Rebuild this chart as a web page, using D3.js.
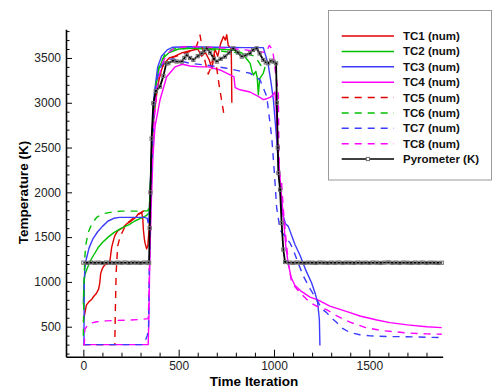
<!DOCTYPE html>
<html>
<head>
<meta charset="utf-8">
<script src="https://d3js.org/d3.v7.min.js"></script>
<style>
  body { margin: 0; background: #fff; }
  svg { display: block; font-family: "Liberation Sans", Arial, sans-serif; }
</style>
</head>
<body>
<svg width="497" height="387"></svg>
<script>
// values: [iteration, temperature K]
var tc1 = [[0,560],[7,640],[16,740],[30,780],[42,800],[55,840],[68,870],[80,920],[86,985],[91,1095],[100,1150],[112,1190],[125,1200],[138,1210],[145,1330],[149,1390],[160,1480],[166,1520],[180,1570],[210,1610],[228,1650],[245,1670],[262,1700],[275,1720],[288,1760],[300,1770],[306,1780],[312,1700],[315,1580],[320,1480],[324,1430],[332,1370],[338,1400],[341,1480],[345,1600],[352,2000],[360,2500],[370,2850],[385,3100],[400,3300],[420,3430],[450,3500],[480,3520],[520,3560],[560,3580],[600,3600],[620,3520],[640,3560],[660,3480],[675,3380],[690,3600],[705,3520],[720,3660],[735,3740],[745,3700],[752,3760],[760,3640],[770,3620],[776,3600],[779,3000]];
var tc2 = [[0,750],[3,1000],[8,1080],[20,1150],[40,1250],[60,1320],[80,1390],[100,1440],[130,1500],[160,1550],[200,1600],[240,1640],[270,1680],[300,1710],[330,1740],[345,1770],[352,2100],[362,2700],[375,3100],[395,3380],[420,3500],[450,3560],[500,3600],[600,3610],[700,3600],[780,3590],[830,3560],[860,3480],[875,3440],[885,3350],[892,3310],[905,3350],[912,3280],[918,3090],[925,3270],[935,3300],[944,3330],[953,3400]];
var tc3 = [[0,300],[3,300],[5,1000],[8,1150],[15,1250],[30,1380],[50,1480],[75,1560],[100,1620],[130,1680],[160,1710],[190,1720],[230,1720],[280,1720],[320,1720],[335,1710],[340,1660],[345,1720],[350,2000],[360,2600],[372,3100],[390,3400],[410,3520],[440,3590],[470,3620],[550,3625],[700,3620],[850,3615],[944,3615],[960,3500],[970,3420],[985,3220],[997,3030],[1014,2590],[1030,2100],[1040,1800],[1060,1650],[1075,1620],[1110,1417],[1136,1300],[1165,1140],[1197,990],[1215,880],[1229,770],[1238,580],[1241,290]];
var tc4 = [[0,300],[340,300],[344,600],[348,1200],[355,1800],[365,2400],[376,2735],[402,3030],[437,3290],[481,3400],[520,3430],[560,3410],[612,3400],[656,3400],[717,3366],[770,3310],[790,3290],[796,3170],[822,3145],[874,3120],[918,3070],[945,3035],[962,3045],[980,3060],[995,3090],[1005,3120],[1012,2900],[1020,2500],[1030,2200],[1040,1950],[1050,1700],[1062,1400],[1075,1200],[1090,1050],[1110,960],[1140,900],[1189,830],[1230,800],[1293,730],[1350,690],[1399,657],[1451,619],[1540,575],[1608,546],[1700,520],[1800,500],[1880,490]];
var tc5 = [[0,300],[165,300],[168,700],[172,1100],[180,1400],[192,1500],[210,1580],[228,1650],[255,1700],[280,1740],[315,1790],[340,1800],[348,1820],[355,2200],[365,2700],[378,3000],[395,3250],[420,3430],[460,3500],[500,3530],[540,3560],[570,3580],[595,3640],[612,3756],[625,3600],[640,3450],[655,3320],[670,3400],[685,3560],[700,3380],[712,3200],[725,3030],[735,2900],[743,2840]];
var tc6 = [[0,400],[3,900],[7,1250],[12,1400],[25,1550],[45,1650],[70,1720],[100,1760],[150,1780],[200,1790],[280,1790],[340,1795],[348,1900],[355,2300],[365,2800],[380,3200],[400,3420],[430,3550],[470,3600],[550,3610],[650,3600],[750,3570],[850,3550],[900,3520],[930,3420],[950,3380]];
var tc7 = [[0,300],[310,300],[322,330],[335,400],[342,480],[346,1200],[355,2100],[368,2800],[385,3250],[410,3420],[440,3480],[470,3490],[520,3460],[560,3440],[647,3420],[752,3385],[874,3330],[927,3255],[962,3070],[988,2620],[1002,2220],[1014,1830],[1032,1580],[1060,1500],[1084,1435],[1101,1360],[1125,1220],[1154,1065],[1190,920],[1224,805],[1250,700],[1276,657],[1300,600],[1329,546],[1360,480],[1399,435],[1450,410],[1504,397],[1600,390],[1700,388],[1800,382],[1880,378]];
var tc8 = [[0,300],[5,300],[8,470],[20,510],[40,540],[70,555],[120,565],[180,570],[250,575],[300,580],[340,590],[344,800],[348,1300],[356,2000],[368,2700],[385,3150],[410,3420],[440,3550],[480,3610],[550,3630],[650,3620],[750,3610],[850,3590],[920,3570],[960,3560],[975,3640],[990,3600],[997,3530],[1010,3300],[1023,3107],[1025,2600],[1028,2216],[1040,2104],[1049,1807],[1062,1500],[1075,1213],[1093,991],[1136,880],[1189,770],[1240,710],[1276,690],[1330,620],[1399,550],[1480,490],[1573,455],[1700,430],[1800,420],[1880,415]];
var pyrometer = [[0,1215],[20,1212],[40,1216],[60,1213],[80,1215],[100,1211],[120,1216],[140,1214],[160,1212],[180,1215],[200,1213],[220,1216],[240,1212],[260,1215],[280,1214],[300,1212],[320,1216],[340,1214],[345,1215],[348,1600],[352,2000],[358,2600],[367,2995],[380,3130],[402,3180],[420,3300],[435,3440],[446,3441],[470,3470],[490,3460],[516,3459],[530,3500],[542,3533],[560,3500],[577,3478],[600,3520],[621,3552],[635,3580],[647,3608],[665,3560],[685,3490],[700,3459],[720,3490],[743,3515],[765,3560],[787,3608],[810,3560],[831,3515],[850,3530],[874,3552],[890,3590],[909,3608],[925,3550],[944,3478],[957,3450],[970,3441],[985,3470],[997,3459],[1011,3440],[1015,3000],[1020,2500],[1023,2216],[1032,2030],[1040,1658],[1049,1361],[1058,1222],[1080,1215],[1100,1213],[1120,1216],[1140,1214],[1160,1212],[1180,1215],[1200,1214],[1220,1212],[1240,1216],[1260,1214],[1280,1212],[1300,1215],[1320,1213],[1340,1216],[1360,1212],[1380,1215],[1400,1214],[1420,1212],[1440,1216],[1460,1213],[1480,1215],[1500,1212],[1520,1216],[1540,1214],[1560,1212],[1580,1215],[1600,1218],[1620,1213],[1640,1215],[1660,1212],[1680,1216],[1700,1214],[1720,1212],[1740,1215],[1760,1213],[1780,1216],[1800,1212],[1820,1215],[1840,1214],[1860,1212],[1880,1214]];

var seriesNames = ["TC1 (num)","TC2 (num)","TC3 (num)","TC4 (num)","TC5 (num)","TC6 (num)","TC7 (num)","TC8 (num)","Pyrometer (K)"];
var xTicks = [0, 500, 1000, 1500];
var yTicks = [500, 1000, 1500, 2000, 2500, 3000, 3500];

var colors = ["#e00000","#00c000","#3c3cff","#ff00ff","#e00000","#00c000","#3c3cff","#ff00ff","#000000"];
var dashed = [false,false,false,false,true,true,true,true,false];
var allSeries = [tc1,tc2,tc3,tc4,tc5,tc6,tc7,tc8,pyrometer];

var svg = d3.select("svg");

var x = d3.scaleLinear().domain([-91, 1885]).range([66, 442.7]);
var y = d3.scaleLinear().domain([165, 3820]).range([356.7, 29.3]);

// minor ticks every 100
var xMinor = d3.range(0, 1900, 100).filter(function(v){ return v % 500 != 0; });
var yMinor = d3.range(200, 3900, 100).filter(function(v){ return v % 500 != 0; });

svg.append("g")
  .attr("transform", "translate(0,356.7)")
  .call(d3.axisBottom(x).tickValues(xMinor).tickSizeInner(-4).tickSizeOuter(0).tickFormat(""))
  .call(function(g){ g.select(".domain").remove(); });
svg.append("g")
  .attr("transform", "translate(66,0)")
  .call(d3.axisLeft(y).tickValues(yMinor).tickSizeInner(-3.5).tickSizeOuter(0).tickFormat(""))
  .call(function(g){ g.select(".domain").remove(); });

var xAxis = svg.append("g")
  .attr("transform", "translate(0,356.7)")
  .call(d3.axisBottom(x).tickValues(xTicks).tickFormat(d3.format("d"))
    .tickSizeInner(-7).tickSizeOuter(0).tickPadding(5));
var yAxis = svg.append("g")
  .attr("transform", "translate(66,0)")
  .call(d3.axisLeft(y).tickValues(yTicks).tickFormat(d3.format("d"))
    .tickSizeInner(-6).tickSizeOuter(0).tickPadding(5));

[xAxis, yAxis].forEach(function(g){
  g.select(".domain").attr("stroke-width", 1.6);
  g.selectAll("text").attr("font-size", 12).attr("fill", "#222")
    .attr("font-family", "'Liberation Sans', Arial, sans-serif");
});
svg.selectAll(".tick line").attr("stroke", "#000");

// curves
var line = d3.line()
  .x(function(d){ return x(d[0]); })
  .y(function(d){ return y(d[1]); });

allSeries.forEach(function(s, i) {
  svg.append("path")
    .datum(s)
    .attr("d", line)
    .attr("fill", "none")
    .attr("stroke", colors[i])
    .attr("stroke-width", i == 8 ? 1.8 : 1.4)
    .attr("stroke-dasharray", dashed[i] ? "7,6" : null)
    .attr("stroke-linejoin", "round");
});

// pyrometer markers
svg.append("g").selectAll("rect")
  .data(pyrometer)
  .enter().append("rect")
  .attr("x", function(d){ return x(d[0]) - 1.6; })
  .attr("y", function(d){ return y(d[1]) - 1.6; })
  .attr("width", 3.2)
  .attr("height", 3.2)
  .attr("fill", "none")
  .attr("stroke", "#6e6e6e")
  .attr("stroke-width", 1);

// axis titles
svg.append("text")
  .attr("x", 254).attr("y", 385.5)
  .attr("text-anchor", "middle")
  .attr("font-size", 13.5).attr("font-weight", "bold")
  .text("Time Iteration");
svg.append("text")
  .attr("transform", "translate(28,192.5) rotate(-90)")
  .attr("text-anchor", "middle")
  .attr("font-size", 13.5).attr("font-weight", "bold")
  .text("Temperature (K)");

// legend
var legend = svg.append("g");
legend.append("rect")
  .attr("x", 328.5).attr("y", 10.5)
  .attr("width", 163).attr("height", 169.5)
  .attr("fill", "#fff").attr("stroke", "#9a9a9a").attr("stroke-width", 1);

var rows = legend.selectAll("g.row")
  .data(seriesNames)
  .enter().append("g")
  .attr("class", "row")
  .attr("transform", function(d, i){ return "translate(0," + (36 + i * 15.375) + ")"; });

rows.append("line")
  .attr("x1", 341.7).attr("x2", 394)
  .attr("stroke", function(d, i){ return colors[i]; })
  .attr("stroke-width", 1.5)
  .attr("stroke-dasharray", function(d, i){ return dashed[i] ? "7,6" : null; });

rows.filter(function(d, i){ return i == 8; })
  .append("rect")
  .attr("x", 366.3).attr("y", -1.6).attr("width", 3.2).attr("height", 3.2)
  .attr("fill", "#fff").attr("stroke", "#6e6e6e").attr("stroke-width", 1);

rows.append("text")
  .attr("x", 403).attr("dy", "0.35em")
  .attr("font-size", 11.5).attr("font-weight", "bold").attr("fill", "#111")
  .text(function(d){ return d; });
</script>
</body>
</html>
